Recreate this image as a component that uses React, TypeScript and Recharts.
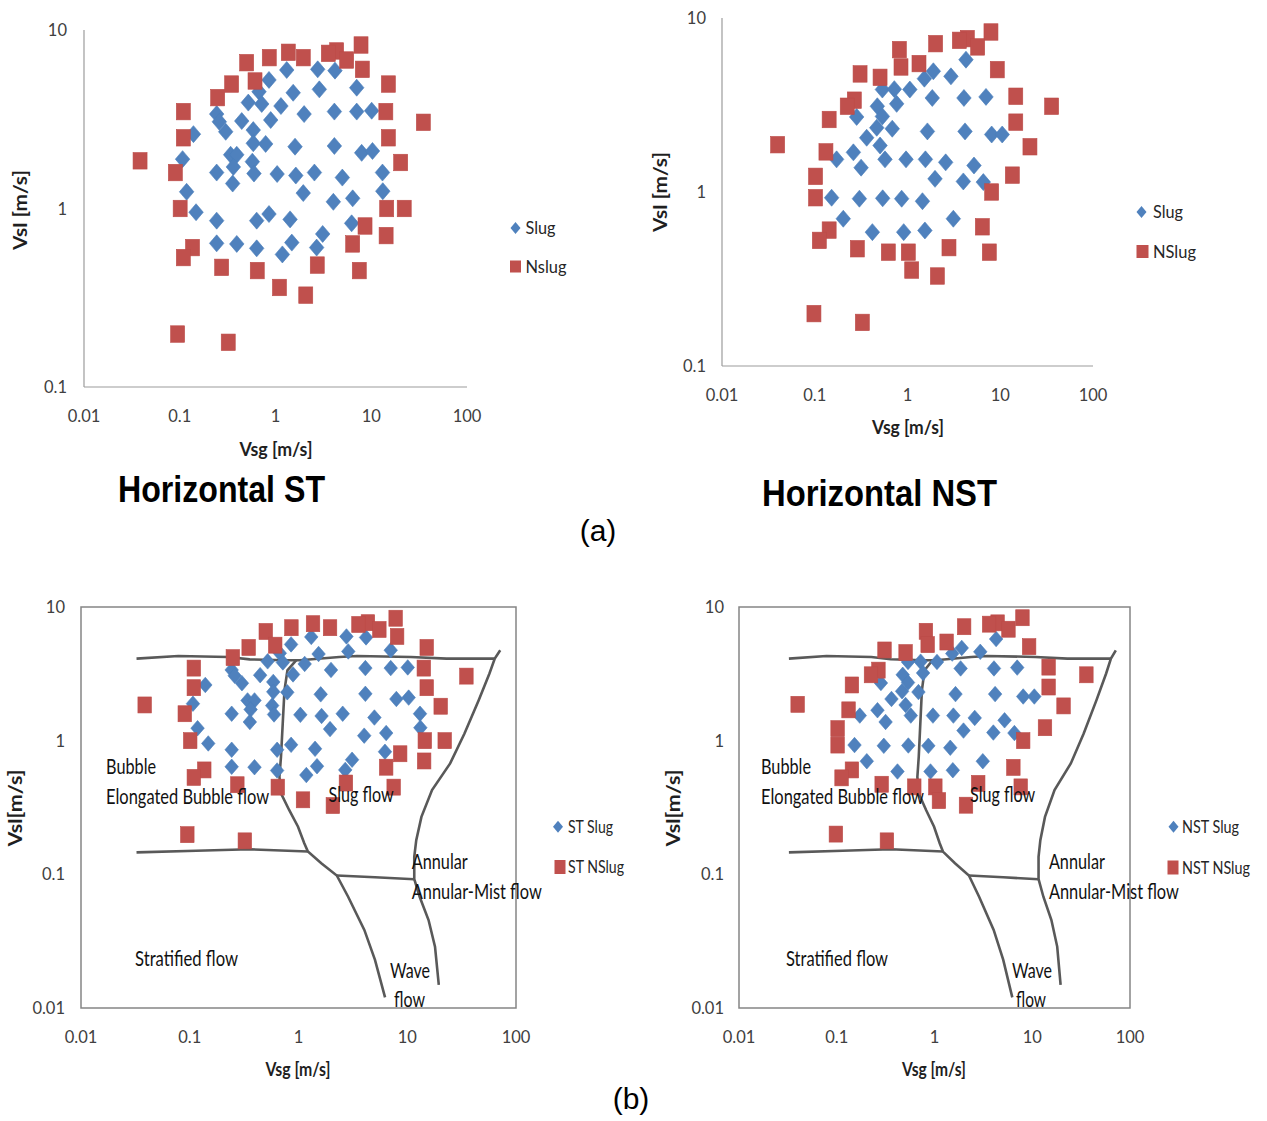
import React from 'react';
import { ScatterChart, Scatter, XAxis, YAxis, Legend, ReferenceArea } from 'recharts';

const SANS = 'Lato, "Open Sans", "DejaVu Sans", sans-serif';
const ARIAL = '"Liberation Sans", Arial, sans-serif';
const BLUE = '#4F81BD';
const RED = '#C0504D';
const AXIS_GREY = '#9C9C9C';
const BOX_GREY = '#858585';
const CURVE_GREY = '#595959';

type Pt = { x: number; y: number };
type Lbl = { x: number; y: number; text: string; w: number };

// ---- ticks ----
const xTicks = [0.01, 0.1, 1, 10, 100];
const yTicksTop = [0.1, 1, 10];
const yTicksBottom = [0.01, 0.1, 1, 10];

// ---- ST (stratified) data ----
const stSlug: Pt[] = [
  { x: 1.31, y: 5.97 }, { x: 2.76, y: 6.02 }, { x: 4.18, y: 5.92 }, { x: 0.855, y: 5.25 },
  { x: 1.53, y: 4.45 }, { x: 2.87, y: 4.65 }, { x: 7.05, y: 4.75 }, { x: 0.673, y: 4.51 },
  { x: 0.52, y: 3.92 }, { x: 0.718, y: 3.85 }, { x: 1.14, y: 3.75 }, { x: 1.99, y: 3.38 },
  { x: 4.12, y: 3.49 }, { x: 7.05, y: 3.49 }, { x: 10.1, y: 3.53 }, { x: 0.243, y: 3.38 },
  { x: 0.259, y: 3.06 }, { x: 0.302, y: 2.69 }, { x: 0.444, y: 3.09 }, { x: 0.891, y: 3.13 },
  { x: 0.586, y: 2.75 }, { x: 0.139, y: 2.61 }, { x: 0.586, y: 2.32 }, { x: 0.789, y: 2.3 },
  { x: 1.6, y: 2.22 }, { x: 4.12, y: 2.24 }, { x: 7.94, y: 2.05 }, { x: 10.3, y: 2.1 },
  { x: 0.107, y: 1.89 }, { x: 0.34, y: 2.0 }, { x: 0.394, y: 2.0 }, { x: 0.363, y: 1.71 },
  { x: 0.573, y: 1.83 }, { x: 0.243, y: 1.59 }, { x: 0.596, y: 1.57 }, { x: 1.04, y: 1.56 },
  { x: 1.63, y: 1.53 }, { x: 2.55, y: 1.59 }, { x: 4.99, y: 1.49 }, { x: 13.1, y: 1.59 },
  { x: 0.357, y: 1.38 }, { x: 0.118, y: 1.24 }, { x: 1.95, y: 1.22 }, { x: 4.02, y: 1.09 },
  { x: 6.4, y: 1.14 }, { x: 13.2, y: 1.25 }, { x: 0.148, y: 0.953 }, { x: 0.243, y: 0.855 },
  { x: 0.636, y: 0.855 }, { x: 0.855, y: 0.931 }, { x: 1.42, y: 0.869 }, { x: 6.24, y: 0.826 },
  { x: 3.11, y: 0.72 }, { x: 0.243, y: 0.638 }, { x: 0.394, y: 0.633 }, { x: 0.636, y: 0.598 },
  { x: 1.48, y: 0.644 }, { x: 1.18, y: 0.553 }, { x: 2.69, y: 0.604 },
];
const stNSlug: Pt[] = [
  { x: 7.82, y: 8.24 }, { x: 4.35, y: 7.63 }, { x: 3.56, y: 7.4 }, { x: 5.54, y: 6.79 },
  { x: 8.07, y: 6.02 }, { x: 1.95, y: 7.0 }, { x: 1.36, y: 7.5 }, { x: 0.861, y: 7.0 },
  { x: 0.5, y: 6.56 }, { x: 0.611, y: 5.18 }, { x: 0.348, y: 4.98 }, { x: 0.249, y: 4.18 },
  { x: 15.1, y: 4.98 }, { x: 0.109, y: 3.49 }, { x: 14.2, y: 3.49 }, { x: 35.0, y: 3.04 },
  { x: 0.109, y: 2.49 }, { x: 15.1, y: 2.49 }, { x: 0.0385, y: 1.85 }, { x: 0.09, y: 1.59 },
  { x: 20.3, y: 1.81 }, { x: 0.101, y: 1.0 }, { x: 14.5, y: 1.0 }, { x: 22.1, y: 1.0 },
  { x: 8.61, y: 0.798 }, { x: 14.3, y: 0.705 }, { x: 6.4, y: 0.633 }, { x: 0.136, y: 0.604 },
  { x: 0.109, y: 0.531 }, { x: 0.274, y: 0.468 }, { x: 0.645, y: 0.449 }, { x: 2.73, y: 0.482 },
  { x: 7.5, y: 0.449 }, { x: 1.1, y: 0.361 }, { x: 2.07, y: 0.327 }, { x: 0.095, y: 0.198 },
  { x: 0.321, y: 0.178 },
];

// ---- NST (non-stratified) data ----
const nstSlug: Pt[] = [
  { x: 4.27, y: 5.76 }, { x: 1.9, y: 4.94 }, { x: 1.52, y: 4.48 }, { x: 2.94, y: 4.62 },
  { x: 0.536, y: 3.88 }, { x: 0.721, y: 3.9 }, { x: 1.06, y: 3.88 }, { x: 1.85, y: 3.47 },
  { x: 4.06, y: 3.47 }, { x: 7.02, y: 3.52 }, { x: 0.473, y: 3.11 }, { x: 0.764, y: 3.21 },
  { x: 0.536, y: 2.72 }, { x: 0.283, y: 2.7 }, { x: 0.466, y: 2.34 }, { x: 0.685, y: 2.31 },
  { x: 1.64, y: 2.23 }, { x: 4.17, y: 2.23 }, { x: 8.08, y: 2.14 }, { x: 10.5, y: 2.14 },
  { x: 0.363, y: 2.05 }, { x: 0.506, y: 1.85 }, { x: 0.261, y: 1.69 }, { x: 0.172, y: 1.54 },
  { x: 0.316, y: 1.38 }, { x: 0.572, y: 1.54 }, { x: 0.964, y: 1.54 }, { x: 1.56, y: 1.54 },
  { x: 2.58, y: 1.48 }, { x: 5.21, y: 1.42 }, { x: 1.98, y: 1.19 }, { x: 4.0, y: 1.15 },
  { x: 6.57, y: 1.14 }, { x: 0.152, y: 0.927 }, { x: 0.303, y: 0.915 }, { x: 0.54, y: 0.92 },
  { x: 0.865, y: 0.915 }, { x: 1.45, y: 0.885 }, { x: 0.203, y: 0.702 }, { x: 3.12, y: 0.702 },
  { x: 0.418, y: 0.588 }, { x: 0.91, y: 0.588 }, { x: 1.54, y: 0.601 },
];
const nstNSlug: Pt[] = [
  { x: 7.94, y: 8.31 }, { x: 4.42, y: 7.61 }, { x: 3.62, y: 7.44 }, { x: 5.71, y: 6.82 },
  { x: 2.01, y: 7.12 }, { x: 0.817, y: 6.58 }, { x: 0.851, y: 5.23 }, { x: 1.33, y: 5.47 },
  { x: 0.308, y: 4.77 }, { x: 0.506, y: 4.56 }, { x: 9.29, y: 5.05 }, { x: 0.267, y: 3.37 },
  { x: 0.224, y: 3.11 }, { x: 0.143, y: 2.61 }, { x: 14.7, y: 3.55 }, { x: 35.8, y: 3.11 },
  { x: 14.7, y: 2.52 }, { x: 0.0398, y: 1.87 }, { x: 0.132, y: 1.7 }, { x: 20.9, y: 1.82 },
  { x: 0.102, y: 1.23 }, { x: 13.5, y: 1.25 }, { x: 0.102, y: 0.927 }, { x: 8.08, y: 1.0 },
  { x: 6.41, y: 0.631 }, { x: 0.143, y: 0.604 }, { x: 0.112, y: 0.527 }, { x: 0.288, y: 0.472 },
  { x: 0.621, y: 0.451 }, { x: 1.02, y: 0.451 }, { x: 2.8, y: 0.479 }, { x: 7.62, y: 0.451 },
  { x: 1.11, y: 0.356 }, { x: 2.1, y: 0.329 }, { x: 0.098, y: 0.2 }, { x: 0.326, y: 0.178 },
];

// ---- flow-regime boundary curves ----
const curveTop: Pt[] = [
  { x: 0.0324, y: 4.11 }, { x: 0.0785, y: 4.3 }, { x: 0.226, y: 4.23 }, { x: 0.356, y: 4.06 },
  { x: 0.76, y: 4.0 }, { x: 1.03, y: 4.0 }, { x: 2.37, y: 4.23 }, { x: 3.45, y: 4.3 },
  { x: 10.8, y: 4.23 }, { x: 22.9, y: 4.11 }, { x: 63.8, y: 4.11 },
];
const curveRight: Pt[] = [
  { x: 71.6, y: 4.74 }, { x: 63.8, y: 4.11 }, { x: 57.0, y: 3.18 }, { x: 45.4, y: 2.01 },
  { x: 33.6, y: 1.13 }, { x: 24.8, y: 0.676 }, { x: 16.9, y: 0.427 }, { x: 13.5, y: 0.269 },
  { x: 12.1, y: 0.18 }, { x: 11.6, y: 0.135 }, { x: 11.6, y: 0.092 }, { x: 13.0, y: 0.068 },
  { x: 15.7, y: 0.0455 }, { x: 18.0, y: 0.0288 }, { x: 19.5, y: 0.0149 },
];
const curveMiddle: Pt[] = [
  { x: 0.955, y: 4.0 }, { x: 0.791, y: 3.36 }, { x: 0.743, y: 2.38 }, { x: 0.716, y: 1.34 },
  { x: 0.69, y: 0.757 }, { x: 0.668, y: 0.536 }, { x: 0.69, y: 0.403 }, { x: 0.82, y: 0.303 },
  { x: 0.99, y: 0.227 }, { x: 1.13, y: 0.171 }, { x: 1.22, y: 0.148 }, { x: 1.62, y: 0.121 },
  { x: 2.25, y: 0.098 }, { x: 2.86, y: 0.068 }, { x: 4.03, y: 0.0384 }, { x: 5.05, y: 0.0229 },
  { x: 6.25, y: 0.012 },
];
const curveStratified: Pt[] = [
  { x: 0.0324, y: 0.146 }, { x: 0.115, y: 0.15 }, { x: 0.357, y: 0.154 }, { x: 1.22, y: 0.148 },
];
const curveWave: Pt[] = [
  { x: 2.25, y: 0.098 }, { x: 5.05, y: 0.095 }, { x: 11.6, y: 0.092 },
];
const curves = [curveTop, curveRight, curveMiddle, curveStratified, curveWave];

// ---- regime labels (left edge / middle of text, in data units) ----
const labelsST: Lbl[] = [
  { x: 0.017, y: 0.638, text: 'Bubble', w: 50 },
  { x: 0.017, y: 0.385, text: 'Elongated Bubble flow', w: 163 },
  { x: 1.89, y: 0.399, text: 'Slug flow', w: 65 },
  { x: 11.0, y: 0.1244, text: 'Annular', w: 56 },
  { x: 11.0, y: 0.0741, text: 'Annular-Mist flow', w: 130 },
  { x: 0.0314, y: 0.0233, text: 'Stratified flow', w: 103 },
  { x: 6.94, y: 0.0192, text: 'Wave', w: 40 },
  { x: 7.55, y: 0.01167, text: 'flow', w: 31 },
];
const labelsNST: Lbl[] = [
  { x: 0.0168, y: 0.638, text: 'Bubble', w: 50 },
  { x: 0.0168, y: 0.385, text: 'Elongated Bubble flow', w: 163 },
  { x: 2.31, y: 0.399, text: 'Slug flow', w: 65 },
  { x: 14.8, y: 0.1244, text: 'Annular', w: 56 },
  { x: 14.8, y: 0.0741, text: 'Annular-Mist flow', w: 130 },
  { x: 0.0303, y: 0.0233, text: 'Stratified flow', w: 102 },
  { x: 6.21, y: 0.0192, text: 'Wave', w: 40 },
  { x: 6.82, y: 0.01167, text: 'flow', w: 30 },
];

type LegendItem = { name: string; w: number; kind: 'diamond' | 'square'; cx: number; cy: number; mw: number; mh: number };

interface PanelProps {
  left: number; top: number; width: number; height: number;
  margin: { top: number; right: number; bottom: number; left: number };
  yDomain: [number, number]; yTicks: number[];
  slug: Pt[]; nslug: Pt[]; names: [string, string];
  legendItems: LegendItem[]; legendTextX: number;
  yTickDx: number; xTickDy: number;
  boxed?: boolean; labels?: Lbl[];
  marker: { dw: number; dh: number; sw: number; sh: number };
}

function Panel(p: PanelProps) {
  const { dw, dh, sw, sh } = p.marker;
  const diamond = (props: any) => {
    const { cx, cy } = props;
    if (cx == null || cy == null) return <g />;
    return <path d={`M${cx} ${cy - dh / 2}L${cx + dw / 2} ${cy}L${cx} ${cy + dh / 2}L${cx - dw / 2} ${cy}Z`} fill={BLUE} stroke="#4A7DBA" strokeWidth={0.6} />;
  };
  const square = (props: any) => {
    const { cx, cy } = props;
    if (cx == null || cy == null) return <g />;
    return <rect x={cx - sw / 2} y={cy - sh / 2} width={sw} height={sh} fill={RED} stroke="#BC4B48" strokeWidth={0.6} />;
  };
  const labelShape = (props: any) => {
    const d = props.payload || {};
    if (props.cx == null) return <g />;
    return (
      <text x={props.cx} y={props.cy + 7.5} fontFamily={SANS} fontSize={21} fill="#111"
        textLength={d.w} lengthAdjust="spacingAndGlyphs">{d.text}</text>
    );
  };
  const noShape = () => <g />;
  const xTick = (props: any) => (
    <text x={props.x} y={props.y + p.xTickDy} textAnchor="middle" fontFamily={SANS} fontSize={16.5} fill="#404040">
      {String(props.payload.value)}
    </text>
  );
  const yTick = (props: any) => (
    <text x={props.x + p.yTickDx} y={props.y + 6} textAnchor="end" fontFamily={SANS} fontSize={16.5} fill="#404040">
      {String(props.payload.value)}
    </text>
  );
  const axisLine = p.boxed ? false : { stroke: AXIS_GREY, strokeWidth: 1.2 };
  const legendContent = () => (
    <svg width={p.width} height={p.height} style={{ display: 'block', pointerEvents: 'none' }}>
      {p.legendItems.map((it, i) => (
        <g key={i}>
          {it.kind === 'diamond' ? (
            <path d={`M${it.cx} ${it.cy - it.mh / 2}L${it.cx + it.mw / 2} ${it.cy}L${it.cx} ${it.cy + it.mh / 2}L${it.cx - it.mw / 2} ${it.cy}Z`} fill={BLUE} />
          ) : (
            <rect x={it.cx - it.mw / 2} y={it.cy - it.mh / 2} width={it.mw} height={it.mh} fill={RED} />
          )}
          <text x={p.legendTextX} y={it.cy + 6.3} fontFamily={SANS} fontSize={18} fill="#262626"
            textLength={it.w} lengthAdjust="spacingAndGlyphs">{it.name}</text>
        </g>
      ))}
    </svg>
  );

  return (
    <div style={{ position: 'absolute', left: p.left, top: p.top }}>
      <ScatterChart width={p.width} height={p.height} margin={p.margin}>
        <XAxis type="number" dataKey="x" scale="log" domain={[0.01, 100]} ticks={xTicks} interval={0}
          height={40} tickLine={false} tickSize={0} tickMargin={0}
          axisLine={axisLine} tick={xTick} />
        <YAxis type="number" dataKey="y" scale="log" domain={p.yDomain} ticks={p.yTicks} interval={0}
          width={60} tickLine={false} tickSize={0} tickMargin={0}
          axisLine={axisLine} tick={yTick} />
        {p.boxed && (
          <ReferenceArea x1={0.01} x2={100} y1={p.yDomain[0]} y2={p.yDomain[1]} fill="none"
            stroke={BOX_GREY} strokeWidth={1.5} ifOverflow="visible" />
        )}
        {p.boxed && curves.map((c, i) => (
          <Scatter key={'c' + i} data={c} fill={CURVE_GREY} line={{ stroke: CURVE_GREY, strokeWidth: 2.6 }}
            shape={noShape} legendType="none" isAnimationActive={false} />
        ))}
        <Scatter name={p.names[0]} data={p.slug} fill={BLUE} shape={diamond} isAnimationActive={false} />
        <Scatter name={p.names[1]} data={p.nslug} fill={RED} shape={square} isAnimationActive={false} />
        {p.labels && (
          <Scatter data={p.labels} fill="#000" shape={labelShape} legendType="none" isAnimationActive={false} />
        )}
        <Legend layout="vertical" align="center" verticalAlign="middle"
          wrapperStyle={{ left: 0, top: 0, width: p.width, height: p.height, pointerEvents: 'none' }}
          content={legendContent} />
      </ScatterChart>
    </div>
  );
}

const topMarker = { dw: 14.5, dh: 17, sw: 14, sh: 16.5 };
const botMarker = { dw: 13.5, dh: 15.5, sw: 13.5, sh: 16 };

export default function App() {
  return (
    <div style={{ position: 'absolute', left: 0, top: 0, width: 1267, height: 1121, background: '#fff', overflow: 'hidden' }}>
      <Panel left={0} top={0} width={620} height={470}
        margin={{ top: 30, left: 24, right: 153, bottom: 43 }}
        yDomain={[0.1, 10]} yTicks={yTicksTop} slug={stSlug} nslug={stNSlug} names={['Slug', 'Nslug']}
        legendItems={[
          { name: 'Slug', w: 30, kind: 'diamond', cx: 515.5, cy: 228, mw: 10, mh: 12 },
          { name: 'Nslug', w: 41, kind: 'square', cx: 515.5, cy: 266.5, mw: 11, mh: 12 },
        ]}
        legendTextX={525.5} yTickDx={-17} xTickDy={35} marker={topMarker} />
      <Panel left={620} top={0} width={647} height={470}
        margin={{ top: 18, left: 42, right: 174, bottom: 64 }}
        yDomain={[0.1, 10]} yTicks={yTicksTop} slug={nstSlug} nslug={nstNSlug} names={['Slug', 'NSlug']}
        legendItems={[
          { name: 'Slug', w: 30, kind: 'diamond', cx: 521.5, cy: 212, mw: 10, mh: 12 },
          { name: 'NSlug', w: 43, kind: 'square', cx: 522.5, cy: 251.5, mw: 12, mh: 13 },
        ]}
        legendTextX={533} yTickDx={-16} xTickDy={35} marker={topMarker} />
      <Panel left={0} top={560} width={640} height={540}
        margin={{ top: 47, left: 21, right: 124, bottom: 52 }}
        yDomain={[0.01, 10]} yTicks={yTicksBottom} slug={stSlug} nslug={stNSlug} names={['ST Slug', 'ST NSlug']}
        legendItems={[
          { name: 'ST Slug', w: 45, kind: 'diamond', cx: 558, cy: 266.7, mw: 10, mh: 12 },
          { name: 'ST NSlug', w: 56, kind: 'square', cx: 560, cy: 307, mw: 11, mh: 14 },
        ]}
        legendTextX={568} yTickDx={-16} xTickDy={35} boxed labels={labelsST} marker={botMarker} />
      <Panel left={640} top={560} width={627} height={540}
        margin={{ top: 47, left: 39, right: 137, bottom: 52 }}
        yDomain={[0.01, 10]} yTicks={yTicksBottom} slug={nstSlug} nslug={nstNSlug} names={['NST Slug', 'NST NSlug']}
        legendItems={[
          { name: 'NST Slug', w: 57, kind: 'diamond', cx: 533.5, cy: 266.7, mw: 10, mh: 12 },
          { name: 'NST NSlug', w: 68, kind: 'square', cx: 533, cy: 307.5, mw: 11, mh: 14 },
        ]}
        legendTextX={542} yTickDx={-15} xTickDy={35} boxed labels={labelsNST} marker={botMarker} />

      <svg width={1267} height={1121} style={{ position: 'absolute', left: 0, top: 0, pointerEvents: 'none' }}>
        <g fontFamily={SANS} fontWeight="bold" fontSize={18} fill="#1F1F1F">
          <text x={276} y={456} textAnchor="middle" textLength={73} lengthAdjust="spacingAndGlyphs">Vsg [m/s]</text>
          <text x={908} y={434} textAnchor="middle" textLength={72} lengthAdjust="spacingAndGlyphs">Vsg [m/s]</text>
          <text x={298} y={1076} textAnchor="middle" textLength={65} lengthAdjust="spacingAndGlyphs">Vsg [m/s]</text>
          <text x={934} y={1076} textAnchor="middle" textLength={64} lengthAdjust="spacingAndGlyphs">Vsg [m/s]</text>
          <text x={19.5} y={210} transform="rotate(-90 19.5 210)" textAnchor="middle" dominantBaseline="central" textLength={80} lengthAdjust="spacingAndGlyphs">Vsl [m/s]</text>
          <text x={660} y={192} transform="rotate(-90 660 192)" textAnchor="middle" dominantBaseline="central" textLength={80} lengthAdjust="spacingAndGlyphs">Vsl [m/s]</text>
          <text x={15} y={808} transform="rotate(-90 15 808)" textAnchor="middle" dominantBaseline="central" textLength={77} lengthAdjust="spacingAndGlyphs">Vsl[m/s]</text>
          <text x={673} y={808} transform="rotate(-90 673 808)" textAnchor="middle" dominantBaseline="central" textLength={77} lengthAdjust="spacingAndGlyphs">Vsl[m/s]</text>
        </g>
        <g fontFamily={ARIAL} fontWeight="bold" fontSize={36} fill="#000">
          <text x={118} y={502} textLength={207} lengthAdjust="spacingAndGlyphs">Horizontal ST</text>
          <text x={762} y={506} textLength={235} lengthAdjust="spacingAndGlyphs">Horizontal NST</text>
        </g>
        <g fontFamily={ARIAL} fontSize={30} fill="#000">
          <text x={598} y={541} textAnchor="middle">(a)</text>
          <text x={631} y={1109} textAnchor="middle">(b)</text>
        </g>
      </svg>
    </div>
  );
}
